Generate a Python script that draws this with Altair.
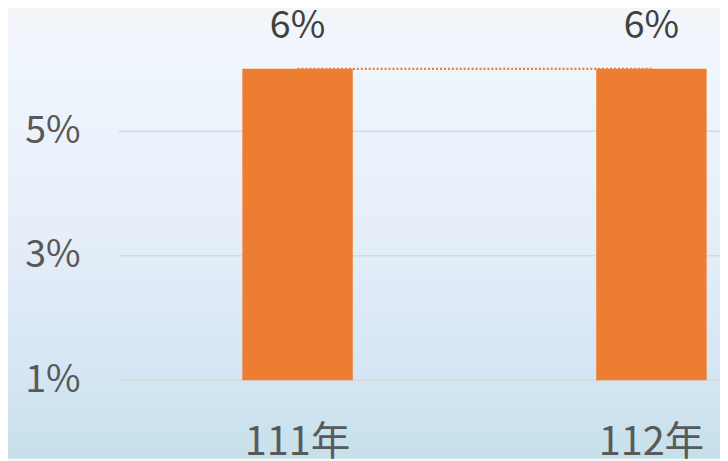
import altair as alt
import pandas as pd

# ---- data ----
years = ["111年", "112年"]
net_margin = [6, 6]          # 稅後純益率 (%)
value_labels = ["6%", "6%"]
y_ticks = [1, 3, 5]

FONT = "Noto Sans CJK TC"
ORANGE = "#ED7D31"

df = pd.DataFrame({"year": years, "value": net_margin, "label": value_labels})
conn = pd.DataFrame({"from": [years[0]], "to": [years[1]], "value": [net_margin[0]]})
grid_df = pd.DataFrame({"tick": y_ticks})

W, H = 608, 366
PAD = {"left": 112, "top": 8, "right": 0, "bottom": 79}
y_max = 1 + H / 63.0

xscale = alt.Scale(domain=years, range=[125, 594.5], paddingInner=0.688, paddingOuter=0)
yscale = alt.Scale(domain=[1, y_max], nice=False, zero=False)

bg = alt.Chart(alt.Data(values=[{"k": 1}])).mark_rect(
    fill=alt.Gradient(
        gradient="linear", x1=0, x2=0, y1=0, y2=1,
        stops=[
            alt.GradientStop(offset=0, color="#f3f5f8"),
            alt.GradientStop(offset=0.1, color="#f1f6fd"),
            alt.GradientStop(offset=0.5, color="#e5eef9"),
            alt.GradientStop(offset=0.8, color="#d6e6f4"),
            alt.GradientStop(offset=1, color="#c6e0e9"),
        ],
    ),
    stroke=None,
).encode(
    x=alt.value(-PAD["left"]), x2=alt.value(W + PAD["right"]),
    y=alt.value(-PAD["top"]), y2=alt.value(H + PAD["bottom"]),
)

grid = alt.Chart(grid_df).mark_rule(color="#d9d9d9", strokeWidth=1.5).encode(
    y=alt.Y("tick:Q", scale=yscale),
)

base = alt.Chart(df)

bars = base.mark_bar(color=ORANGE, clip=False).encode(
    x=alt.X("year:N", scale=xscale, sort=years,
            axis=alt.Axis(title=None, labelAngle=0, labelFontSize=40, labelFont=FONT,
                          labelColor="#595959", labelPadding=75, labelBaseline="alphabetic",
                          domain=False, ticks=False, tickSize=0, grid=False, zindex=2)),
    y=alt.Y("value:Q", scale=yscale,
            axis=alt.Axis(title=None, values=y_ticks, labelExpr="datum.value + '%'",
                          labelFontSize=38, labelFont=FONT, labelColor="#595959",
                          labelPadding=39, domain=False, ticks=False, tickSize=0,
                          grid=False, zindex=2)),
    y2=alt.datum(1),
)

rule = alt.Chart(conn).mark_rule(color=ORANGE, strokeWidth=2.5, strokeDash=[2, 2]).encode(
    x=alt.X("from:N", scale=xscale, sort=years),
    x2="to:N",
    y=alt.Y("value:Q", scale=yscale),
)

text = base.mark_text(font=FONT, fontSize=38, color="#404040", baseline="alphabetic",
                      dy=-31).encode(
    x=alt.X("year:N", scale=xscale, sort=years),
    y=alt.Y("value:Q", scale=yscale),
    text="label:N",
)

chart = alt.layer(bg, grid, bars, rule, text).properties(
    width=W, height=H,
    autosize=alt.AutoSizeParams(type="none"),
    padding=PAD,
    title=alt.TitleParams("稅後純益率", font=FONT, fontSize=40, color="#404040",
                          anchor="middle", offset=4, fontWeight="normal"),
).configure_view(stroke=None).configure(background="#f3f5f8")

chart.save("out.html", embed_options={"renderer": "svg", "actions": False})
